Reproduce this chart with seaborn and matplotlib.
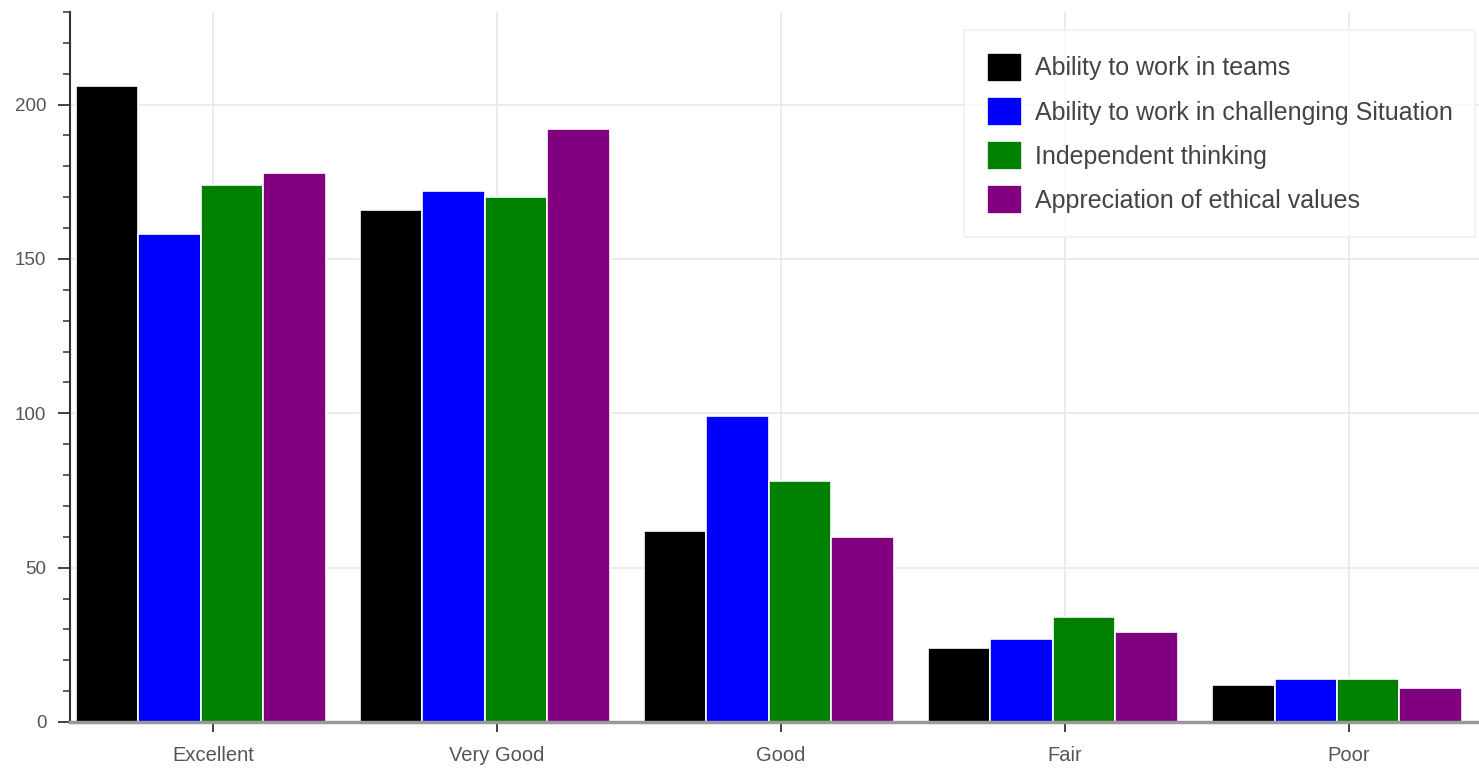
import numpy as np
import pandas as pd
import matplotlib
matplotlib.use("Agg")
import matplotlib.pyplot as plt
import seaborn as sns
from matplotlib.ticker import MultipleLocator

# ratings and the four attributes
ratings = ["Excellent", "Very Good", "Good", "Fair", "Poor"]
series = ["Ability to work in teams",
          "Ability to work in challenging Situation",
          "Independent thinking",
          "Appreciation of ethical values"]
teams = [206, 166, 62, 24, 12]
challenging = [158, 172, 99, 27, 14]
independent = [174, 170, 78, 34, 14]
ethical = [178, 192, 60, 29, 11]
colors = ["black", "blue", "green", "purple"]

rows = []
for name, vals in zip(series, [teams, challenging, independent, ethical]):
    for r, v in zip(ratings, vals):
        rows.append({"rating": r, "attribute": name, "count": v})
df = pd.DataFrame(rows)

sns.set_style("white")
plt.rcParams["font.family"] = ["Liberation Sans", "DejaVu Sans"]

fig = plt.figure(figsize=(14.79, 7.68), dpi=100)
ax = fig.add_axes([70 / 1479, 46 / 768, 1 - 70 / 1479, (722 - 12) / 768])

sns.barplot(data=df, x="rating", y="count", hue="attribute", order=ratings,
            hue_order=series, palette=colors, width=0.88, edgecolor="white",
            linewidth=1.2, saturation=1, ax=ax, zorder=3)

ax.set_xlim(-0.461, 4.50)
ax.set_ylim(0, 230)
ax.set_xticks(np.arange(len(ratings)) + 0.042)
ax.set_xticklabels(ratings)
ax.set_xlabel("")
ax.set_ylabel("")

ax.yaxis.set_major_locator(MultipleLocator(50))
ax.yaxis.set_minor_locator(MultipleLocator(10))
ax.grid(True, which="major", color="#e8e8e8", linewidth=1.2, zorder=0)
ax.set_axisbelow(True)

for s in ["top", "right"]:
    ax.spines[s].set_visible(False)
ax.spines["left"].set_color("#333333")
ax.spines["left"].set_linewidth(1.5)
ax.spines["bottom"].set_color("#999999")
ax.spines["bottom"].set_linewidth(2.5)
ax.spines["bottom"].set_zorder(5)

ax.tick_params(axis="y", which="major", left=True, length=9, width=1.3,
               color="#333333", labelsize=13.5, labelcolor="#555555",
               direction="out", pad=8)
ax.tick_params(axis="y", which="minor", left=True, length=5, width=1.1,
               color="#333333", direction="out")
ax.tick_params(axis="x", bottom=True, length=7, width=1.3, color="#333333",
               labelsize=14.5, labelcolor="#555555", direction="out", pad=10)

leg = ax.legend(loc="upper right", bbox_to_anchor=(0.9972, 0.9746),
                borderaxespad=0, fontsize=18, frameon=True, fancybox=False,
                edgecolor="#eeeeee", handlelength=1.42, handleheight=1.42,
                handletextpad=0.5, labelspacing=0.6, borderpad=0.9,
                title=None)
for t in leg.get_texts():
    t.set_color("#444444")
leg.get_frame().set_linewidth(1.2)

fig.savefig("out.png", dpi=100)
